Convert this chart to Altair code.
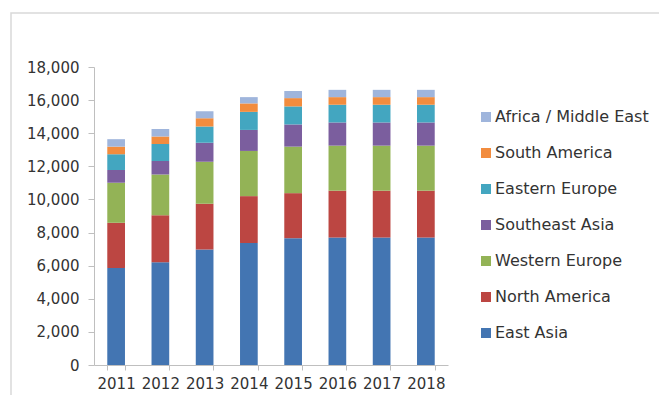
import altair as alt
import pandas as pd

years = ["2011", "2012", "2013", "2014", "2015", "2016", "2017", "2018"]
east_asia = [5860, 6200, 6970, 7370, 7660, 7700, 7700, 7700]
north_america = [2730, 2850, 2770, 2830, 2720, 2830, 2830, 2830]
western_europe = [2420, 2450, 2540, 2730, 2810, 2720, 2720, 2720]
southeast_asia = [770, 820, 1150, 1270, 1340, 1400, 1400, 1400]
eastern_europe = [950, 1030, 970, 1090, 1090, 1070, 1070, 1070]
south_america = [460, 450, 510, 510, 500, 460, 460, 460]
africa_me = [450, 460, 420, 380, 430, 440, 440, 440]

regions = ["East Asia", "North America", "Western Europe", "Southeast Asia",
           "Eastern Europe", "South America", "Africa / Middle East"]
series = [east_asia, north_america, western_europe, southeast_asia,
          eastern_europe, south_america, africa_me]
colors = ["#4375b2", "#bc4642", "#93b356", "#7b5e9e", "#43a6c0", "#f28c3e", "#9fb5dc"]

rows = []
for i, (r, vals) in enumerate(zip(regions, series)):
    for y, v in zip(years, vals):
        rows.append({"Year": y, "Region": r, "Value": v, "idx": i})
df = pd.DataFrame(rows)

legend_order = regions[::-1]
legend_colors = colors[::-1]

bars = alt.Chart(df).mark_bar().encode(
    x=alt.X("Year:N", sort=years, title=None,
            scale=alt.Scale(paddingInner=0.6, paddingOuter=0.3),
            axis=alt.Axis(labelAngle=0, labelFont="DejaVu Sans", labelFontSize=15,
                          labelColor="#333333", domainColor="#bfbfbf", tickColor="#bfbfbf",
                          tickBand="extent", tickSize=5, labelPadding=6)),
    y=alt.Y("Value:Q", stack="zero", title=None,
            scale=alt.Scale(domain=[0, 18000], nice=False),
            axis=alt.Axis(values=list(range(0, 18001, 2000)), format=",.0f",
                          labelFont="DejaVu Sans", labelFontSize=15, labelColor="#333333",
                          domainColor="#bfbfbf", tickColor="#bfbfbf", tickSize=6,
                          labelPadding=9, grid=False)),
    color=alt.Color("Region:N", scale=alt.Scale(domain=legend_order, range=legend_colors),
                    legend=alt.Legend(title=None, orient="none", legendX=384, legendY=42,
                                      symbolType="square", symbolSize=100,
                                      symbolStrokeWidth=0,
                                      labelFont="DejaVu Sans", labelFontSize=16,
                                      labelColor="#333333", labelOffset=1,
                                      rowPadding=20, padding=0, labelLimit=300)),
    order=alt.Order("idx:Q", sort="ascending"),
)

frame = alt.Chart(pd.DataFrame({"a": [0]})).mark_rect(
    fill=None, stroke="#d9d9d9", strokeWidth=1.5, clip=False
).encode(
    x=alt.value(-83), x2=alt.value(600), y=alt.value(-54), y2=alt.value(380)
)

chart = alt.layer(frame, bars).properties(
    width=354, height=298,
    background="white",
    padding={"left": 86, "top": 59, "right": 211, "bottom": 30},
    autosize=alt.AutoSizeParams(type="none"),
).configure_view(stroke=None)

chart.save("out.html", embed_options={"renderer": "svg", "actions": False})
